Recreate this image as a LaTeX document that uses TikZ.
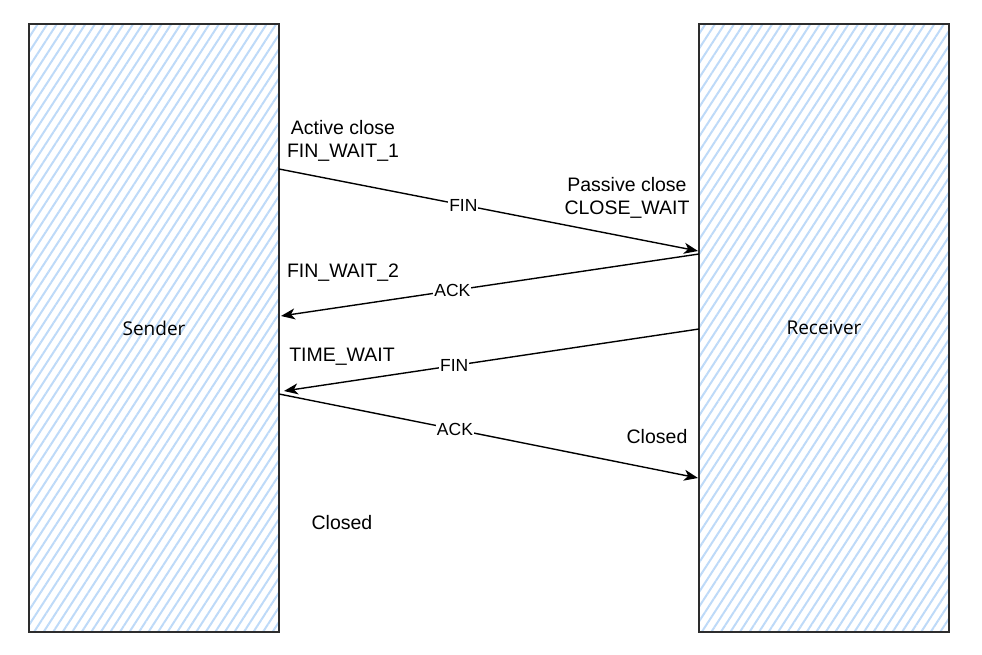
\documentclass[tikz,border=0pt]{standalone}
\usepackage{fontspec}
\setmainfont{Liberation Sans}
\newfontfamily\boxfont{Open Sans}
\usepackage{tikz}
\usetikzlibrary{arrows.meta, patterns.meta}
\definecolor{hatch}{RGB}{190,218,248}
\definecolor{border}{RGB}{45,45,45}
\tikzstyle{host} = [rectangle, minimum width=250pt, minimum height=608pt, inner sep=0pt, draw=border, line width=1.6pt, pattern={Lines[angle=57,distance=8pt,line width=2pt]}, pattern color=hatch, font=\boxfont\fontsize{19}{23}\selectfont]
\tikzstyle{state} = [align=center, inner sep=0pt, font=\fontsize{19.5}{23.5}\selectfont]
\tikzstyle{msg} = [fill=white, inner sep=1pt, font=\fontsize{17.5}{20}\selectfont]
\tikzstyle{arrow} = [line width=1.4pt, -{Stealth[length=14pt,width=11pt,inset=4pt]}]

\begin{document}
\begin{tikzpicture}[x=1pt, y=-1pt]
	\useasboundingbox (0,0) rectangle (982,655);
	\node (sender) [host] at (154,328) {Sender};
	\node (receiver) [host] at (824,328) {Receiver};
	% arrow ends on the two hosts
	\coordinate (s1) at (279,169);
	\coordinate (r1) at (698,251);
	\coordinate (r2) at (699,254);
	\coordinate (s2) at (281,316);
	\coordinate (r3) at (699,329);
	\coordinate (s3) at (284,391);
	\coordinate (s4) at (279,394);
	\coordinate (r4) at (698,478);
	\node (active) [state] at (343,141) {Active close\\FIN\_WAIT\_1};
	\node (passive) [state] at (627,198) {Passive close\\CLOSE\_WAIT};
	\node (finwait2) [state] at (343,273) {FIN\_WAIT\_2};
	\node (timewait) [state] at (342,357) {TIME\_WAIT};
	\node (rclosed) [state] at (657,437) {Closed};
	\node (sclosed) [state] at (342,523) {Closed};
	\draw [arrow] (s1) -- node[msg, pos=0.44] {FIN} (r1);
	\draw [arrow] (r2) -- node[msg, pos=0.59] {ACK} (s2);
	\draw [arrow] (r3) -- node[msg, pos=0.59] {FIN} (s3);
	\draw [arrow] (s4) -- node[msg, pos=0.42] {ACK} (r4);
\end{tikzpicture}
\end{document}
